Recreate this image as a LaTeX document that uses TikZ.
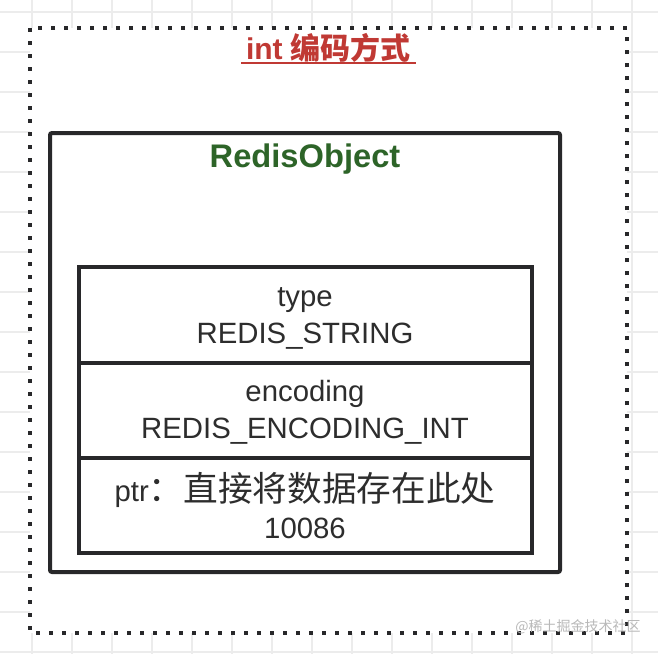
\documentclass[tikz,border=0pt]{standalone}
\usepackage{fontspec}
\setmainfont{Liberation Sans}
\newfontfamily\cjk{Noto Sans CJK SC}
\usetikzlibrary{positioning}
\definecolor{titlered}{RGB}{192,57,52}
\definecolor{objgreen}{RGB}{45,100,40}
\definecolor{linegray}{RGB}{40,40,42}
\definecolor{txtgray}{RGB}{45,45,45}
\definecolor{gridgray}{RGB}{236,236,236}
\newcommand\zhbig[1]{{\cjk\fontsize{26}{27}\selectfont #1}}
\tikzset{
  frame/.style={draw=linegray,line width=3pt,dash pattern=on 3pt off 6.75pt,fill=white},
  objbox/.style={draw=linegray,line width=3pt,rounded corners=1.5pt,
    minimum width=382.5pt,minimum height=329.25pt,inner sep=0pt},
  field/.style={draw=linegray,line width=3pt,minimum width=339.75pt,
    minimum height=71.5pt,inner sep=0pt,align=center,text=txtgray,
    font=\fontsize{22}{27.5}\selectfont},
}
\begin{document}
\begin{tikzpicture}[x=0.75pt,y=-0.75pt]
  \useasboundingbox (0,0) rectangle (658,654);
  % faint grid behind the frame
  \fill[white] (0,0) rectangle (658,654);
  \foreach \gx in {32,72,...,632} \draw[gridgray,line width=0.9pt] (\gx,0) -- (\gx,654);
  \foreach \gy in {12,52,...,652} \draw[gridgray,line width=0.9pt] (0,\gy) -- (658,\gy);
  \draw[frame] (30,28) rectangle (627,633);

  \node[font=\bfseries\fontsize{22.5}{26}\selectfont,text=titlered] (title) at (328.5,47.5) {int {\cjk\bfseries 编码方式}};
  \draw[titlered,line width=1.4pt] ([yshift=-3pt]title.base west) -- ([yshift=-3pt]title.base east);

  \node[objbox] (obj) at (305,352.5) {};
  \node[font=\bfseries\fontsize{24.5}{26}\selectfont,text=objgreen,below=6pt of obj.north] (objname) {RedisObject};

  % the three fields of the object
  \node[field] (type) at (305,315) {\strut type\\REDIS\_STRING};
  \node[field,below=-3pt of type] (encoding) {\strut encoding\\REDIS\_ENCODING\_INT};
  \node[field,below=-3pt of encoding] (ptr) {ptr\zhbig{：直接将数据存在此处}\\10086};

  \node[text=gray!55,font=\cjk\fontsize{10.5}{12}\selectfont] (mark) at (578,627) {@稀土掘金技术社区};
\end{tikzpicture}
\end{document}
